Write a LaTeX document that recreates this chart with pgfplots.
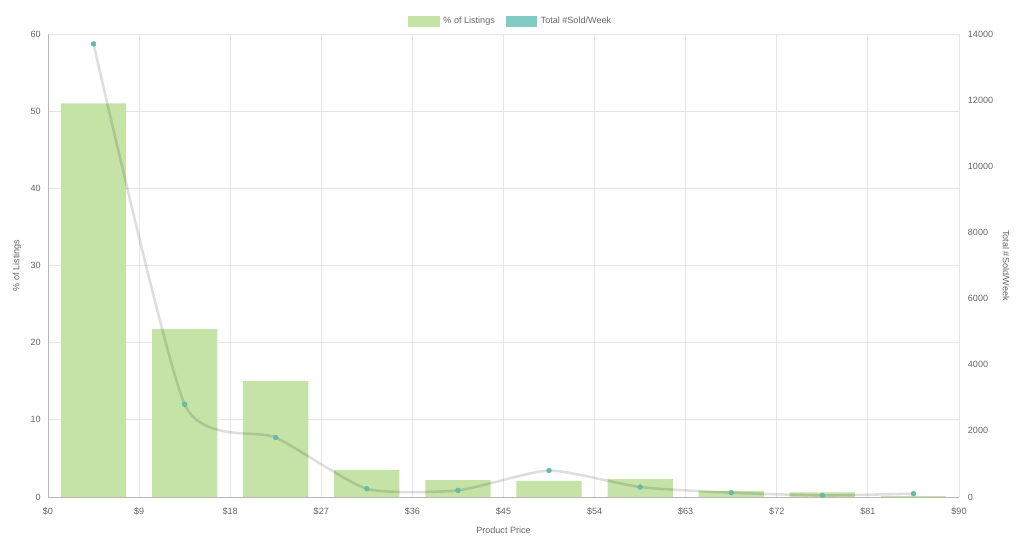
\documentclass[border=0pt]{standalone}
\usepackage{fontspec}
\setmainfont{Liberation Sans}
\usepackage{pgfplots}
\pgfplotsset{compat=1.18}
\definecolor{barfill}{RGB}{197,227,166}
\definecolor{tealbox}{RGB}{128,203,196}
\definecolor{dotc}{RGB}{100,186,172}
\definecolor{gridc}{RGB}{230,230,230}
\definecolor{txt}{RGB}{102,102,102}
\newcommand{\chartfont}{\fontsize{6.8}{8}\selectfont}

\pgfplotstableread{
x     pct   sold
4.5   51.0  13700
13.5  21.8  2800
22.5  15.0  1800
31.5  3.5   250
40.5  2.2   200
49.5  2.1   800
58.5  2.3   300
67.5  0.8   130
76.5  0.6   50
85.5  0.1   100
}\pricedata

\begin{document}
\begin{tikzpicture}
\pgfplotsset{
  common/.style={
    scale only axis, width=683.25pt, height=347.25pt,
    xmin=0, xmax=90,
    major tick length=0pt,
    /pgf/number format/assume math mode=true,
    ticklabel style={font=\chartfont, text=txt, inner sep=0pt},
    label style={font=\chartfont, text=txt},
  },
}
\begin{axis}[
  common,
  ymin=0, ymax=60, ytick={0,10,...,60},
  xtick={0,9,...,90},
  xticklabel={\$\pgfmathprintnumber{\tick}},
  xticklabel style={anchor=base, yshift=-13.5pt},
  yticklabel style={anchor=east, xshift=-5.25pt},
  xmajorgrids, ymajorgrids,
  grid style={gridc, line width=0.6pt},
  axis x line*=bottom, axis y line*=left,
  axis line style={black!28, -, line width=0.7pt},
  xlabel={Product Price},
  xlabel style={at={(axis description cs:0.5,-0.0713)}, anchor=center},
  ylabel={\% of Listings},
  ylabel style={at={(axis description cs:-0.034,0.5)}, anchor=center, rotate=0},
  legend columns=2,
  legend style={at={(axis description cs:0.509,1.028)}, anchor=center,
    draw=none, fill=none, font=\chartfont, text=txt,
    /tikz/every even column/.append style={column sep=5pt},
    nodes={inner xsep=3pt}},
]
\addlegendimage{legend image code/.code={\fill[barfill] (0pt,-3.75pt) rectangle (23pt,3.75pt);}}
\addlegendentry{\% of Listings}
\addlegendimage{legend image code/.code={\fill[tealbox] (0pt,-3.75pt) rectangle (23pt,3.75pt);}}
\addlegendentry{Total \#Sold/Week}
\addplot[ybar, bar width=6.45, fill=barfill, draw=none, forget plot]
  table[x=x, y=pct] {\pricedata};
\end{axis}
\begin{axis}[
  common,
  ymin=0, ymax=14000, ytick={0,2000,...,14000},
  scaled y ticks=false,
  yticklabel style={anchor=west, xshift=6.5pt, /pgf/number format/1000 sep={}},
  axis x line=none, axis y line*=right,
  axis line style={gridc, -, line width=0.6pt},
  ylabel={Total \#Sold/Week},
  ylabel style={at={(axis description cs:1.0516,0.5)}, anchor=center, rotate=180},
]
\addplot[smooth, tension=0.35, draw=black, draw opacity=0.13, line width=1.9pt, mark=none]
  table[x=x, y=sold] {\pricedata};
\addplot[only marks, mark=*, mark size=1.8pt, color=dotc, mark options={fill=dotc, draw=dotc}]
  table[x=x, y=sold] {\pricedata};
\end{axis}
\pgfresetboundingbox
\path (-36pt,-36pt) rectangle (732pt,372.75pt);
\end{tikzpicture}
\end{document}
